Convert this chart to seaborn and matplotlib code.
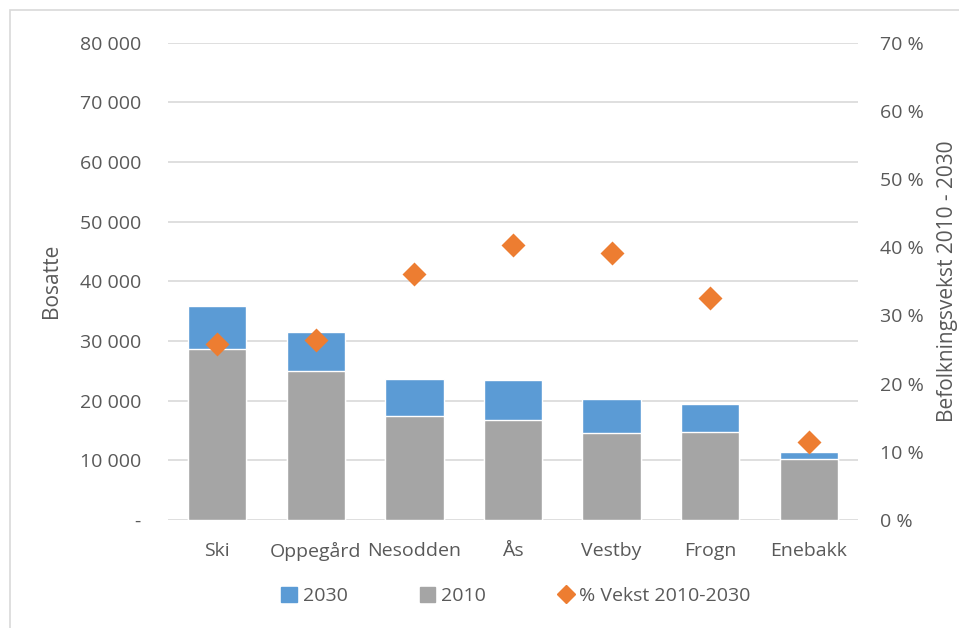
import matplotlib
matplotlib.use("Agg")
import matplotlib.pyplot as plt
import seaborn as sns
import pandas as pd
import numpy as np
from matplotlib.patches import Patch, Rectangle
from matplotlib.lines import Line2D
from matplotlib.ticker import FuncFormatter

kommuner = ["Ski", "Oppegård", "Nesodden", "Ås", "Vestby", "Frogn", "Enebakk"]
bosatte_2030 = [35850, 31550, 23670, 23400, 20220, 19490, 11390]
bosatte_2010 = [28600, 24960, 17420, 16750, 14520, 14740, 10170]
vekst_pct = [25.8, 26.4, 36.0, 40.3, 39.2, 32.6, 11.5]

left_ticks = [0, 10000, 20000, 30000, 40000, 50000, 60000, 70000, 80000]
right_ticks = [0, 10, 20, 30, 40, 50, 60, 70]

BLUE = "#5B9BD5"
GRAY = "#A5A5A5"
ORANGE = "#ED7D31"
TXT = "#595959"
GRID = "#D9D9D9"

sns.set_theme(style="white")
plt.rcParams["font.family"] = ["Open Sans", "DejaVu Sans"]
plt.rcParams["text.color"] = TXT
plt.rcParams["axes.labelcolor"] = TXT
plt.rcParams["xtick.color"] = TXT
plt.rcParams["ytick.color"] = TXT

df = pd.DataFrame({"kommune": kommuner, "b2030": bosatte_2030,
                   "b2010": bosatte_2010, "vekst": vekst_pct})

fig = plt.figure(figsize=(9.59, 6.28), dpi=100)
ax = fig.add_axes([168/959, 1-520/628, 690/959, (520-42.5)/628])

# border of chart area
fig.patches.append(Rectangle((10/959, -0.2), 1.5, 0.984 + 0.2, transform=fig.transFigure,
                             fill=False, ec=GRID, lw=1.2, zorder=0))

ax.set_axisbelow(True)
for v in left_ticks:
    ax.axhline(v, color=GRID, lw=1.2, zorder=0)

sns.barplot(data=df, x="kommune", y="b2030", color=BLUE, width=0.59,
            saturation=1, ax=ax, zorder=2)
sns.barplot(data=df, x="kommune", y="b2010", color=GRAY, width=0.59,
            saturation=1, ax=ax, zorder=3)

ax.set_xlim(-0.5, len(kommuner) - 0.5)
ax.set_ylim(0, 80000)
ax.set_yticks(left_ticks)
ax.yaxis.set_major_formatter(FuncFormatter(
    lambda v, p: "-" if v == 0 else f"{int(v):,}".replace(",", " ")))
for s in ax.spines.values():
    s.set_visible(False)
ax.tick_params(axis="both", length=0, labelsize=14)
ax.tick_params(axis="y", pad=19.5)
ax.tick_params(axis="x", pad=16)
ax.set_xlabel("")
ax.set_ylabel("Bosatte", fontsize=15)
ax.yaxis.set_label_coords(-0.153, 0.5)

ax2 = ax.twinx()
sns.pointplot(data=df, x="kommune", y="vekst", color=ORANGE, markers="D",
              linestyle="none", markersize=10, ax=ax2, errorbar=None)
ax2.set_xlim(-0.5, len(kommuner) - 0.5)
ax2.set_ylim(0, 70)
ax2.set_yticks(right_ticks)
ax2.yaxis.set_major_formatter(FuncFormatter(lambda v, p: f"{int(v)} %"))
for s in ax2.spines.values():
    s.set_visible(False)
ax2.tick_params(axis="y", length=0, labelsize=14, pad=16)
ax2.set_ylabel("Befolkningsvekst 2010 - 2030", fontsize=15)
ax2.yaxis.set_label_coords(1.1138, 0.5)
ax2.set_xlabel("")
ax2.grid(False)

handles = [Patch(color=BLUE, label="2030"),
           Patch(color=GRAY, label="2010"),
           Line2D([], [], marker="D", color=ORANGE, linestyle="none",
                  markersize=9, label="% Vekst 2010-2030")]
fig.legend(handles=handles, loc="center", bbox_to_anchor=(516/959, 1-596/628),
           ncol=3, frameon=False, fontsize=14, handlelength=0.8, handleheight=0.8,
           handletextpad=0.3, columnspacing=3.7)

fig.savefig("out.png", dpi=100)
